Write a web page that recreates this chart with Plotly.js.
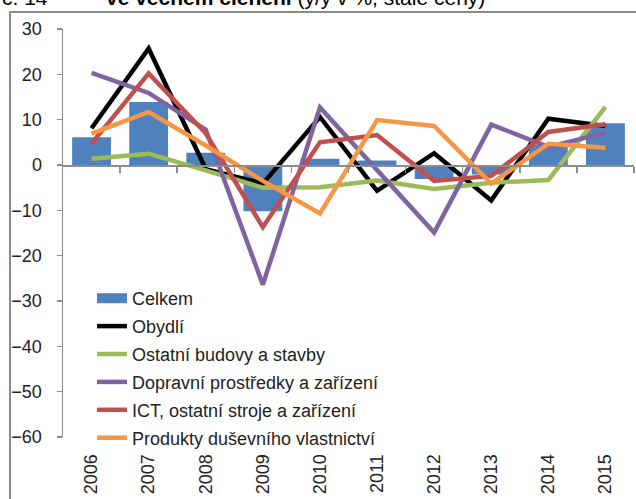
<!DOCTYPE html>
<html>
<head>
<meta charset="utf-8">
<script src="https://cdn.plot.ly/plotly-3.0.1.min.js"></script>
<style>
html,body{margin:0;padding:0;background:#fff;}
#chart{width:636px;height:499px;}
</style>
</head>
<body>
<div id="chart"></div>
<script>
var years = ['2006','2007','2008','2009','2010','2011','2012','2013','2014','2015'];
var celkem   = [6.1, 13.9, 2.7, -10.2, 1.4, 1.0, -3.1, -2.1, 4.4, 9.2];
var obydli   = [8.1, 25.7, -0.9, -4.1, 10.6, -5.7, 2.6, -7.8, 10.2, 8.6];
var ostatni  = [1.4, 2.5, -1.2, -5.0, -4.9, -3.4, -5.3, -3.9, -3.3, 12.8];
var dopravni = [20.3, 15.9, 7.8, -26.4, 12.7, -1.0, -14.9, 8.9, 4.0, 7.1];
var ict      = [4.7, 20.2, 7.0, -13.7, 5.0, 6.6, -3.5, -2.4, 7.3, 9.0];
var produkty = [6.9, 11.7, 4.3, -3.5, -10.7, 9.9, 8.6, -4.1, 4.7, 3.8];
var boundaryTicks = [0.5,1.5,2.5,3.5,4.5,5.5,6.5,7.5,8.5,9.5];

var FONT = 'Liberation Sans, Arial, sans-serif';
var LW = 4.5;
var traces = [
  {type:'bar', x:years, y:celkem, name:'Celkem', marker:{color:'#4F81BD'}, showlegend:false, hoverinfo:'skip'},
  {type:'scatter', mode:'lines', x:[null], y:[null], name:'Celkem', legendgroup:'g0', line:{color:'#4F81BD', width:14}},
  {type:'scatter', mode:'lines', x:years, y:obydli, name:'Obydlí', legendgroup:'g1', line:{color:'#000000', width:LW}},
  {type:'scatter', mode:'lines', x:years, y:ostatni, name:'Ostatní budovy a stavby', legendgroup:'g2', line:{color:'#9BBB59', width:LW}},
  {type:'scatter', mode:'lines', x:years, y:dopravni, name:'Dopravní prostředky a zařízení', legendgroup:'g3', line:{color:'#8064A2', width:LW}},
  {type:'scatter', mode:'lines', x:years, y:ict, name:'ICT, ostatní stroje a zařízení', legendgroup:'g4', line:{color:'#C0504D', width:LW}},
  {type:'scatter', mode:'lines', x:years, y:produkty, name:'Produkty duševního vlastnictví', legendgroup:'g5', line:{color:'#F79646', width:LW}},
  {type:'scatter', mode:'lines', x:[0], y:[null], xaxis:'x2', showlegend:false, hoverinfo:'skip'}
];

var L = 63, R = 634, T = 29, B = 437;
function px2x(p){ return (p - L) / (R - L); }
function px2y(p){ return (B - p) / (B - T); }

var layout = {
  width:636, height:499,
  margin:{l:L, r:636-R, t:T, b:499-B, pad:0},
  paper_bgcolor:'#fff', plot_bgcolor:'rgba(0,0,0,0)',
  font:{family:FONT, size:18, color:'#222'},
  bargap:0.32,
  showlegend:true,
  legend:{x:px2x(92), y:px2y(280), xanchor:'left', yanchor:'top', bgcolor:'rgba(0,0,0,0)',
          font:{family:FONT, size:18, color:'#222'}, tracegroupgap:1.5},
  xaxis:{type:'category', showline:false, showgrid:false, zeroline:false,
         ticks:'outside', ticklen:9, tickcolor:'rgba(0,0,0,0)', tickangle:-90,
         tickfont:{family:FONT, size:18, color:'#222'}, range:[-0.5,9.5]},
  xaxis2:{overlaying:'x', anchor:'free', position:60/90, side:'bottom', range:[-0.5,9.5],
          showline:true, linecolor:'#8c8c8c', linewidth:1.5, showgrid:false, zeroline:false,
          ticks:'outside', tickvals:boundaryTicks, ticklen:6, tickcolor:'#8c8c8c', tickwidth:1.5,
          showticklabels:false},
  yaxis:{range:[-60,30], dtick:10, showline:true, linecolor:'#8c8c8c', linewidth:1.5,
         showgrid:false, zeroline:false, ticks:'outside', ticklen:5, tickcolor:'#8c8c8c', tickwidth:1.5,
         ticklabelstandoff:11, tickfont:{family:FONT, size:18, color:'#222'}},
  shapes:[
    {type:'rect', xref:'paper', yref:'paper', x0:px2x(10), x1:1.2, y0:-0.4, y1:px2y(12),
     line:{color:'#8a8a8a', width:2}, fillcolor:'rgba(0,0,0,0)', layer:'below'}
  ],
  annotations:[
    {xref:'paper', yref:'paper', x:px2x(0), y:px2y(11), xanchor:'left', yanchor:'bottom', showarrow:false,
     text:'č. 14', font:{family:FONT, size:21, color:'#000'}},
    {xref:'paper', yref:'paper', x:px2x(104), y:px2y(11), xanchor:'left', yanchor:'bottom', showarrow:false,
     text:'<b>ve věcném členění</b> (y/y v %, stálé ceny)', font:{family:FONT, size:21, color:'#000'}}
  ]
};

Plotly.newPlot('chart', traces, layout, {displayModeBar:false, staticPlot:true});
</script>
</body>
</html>
